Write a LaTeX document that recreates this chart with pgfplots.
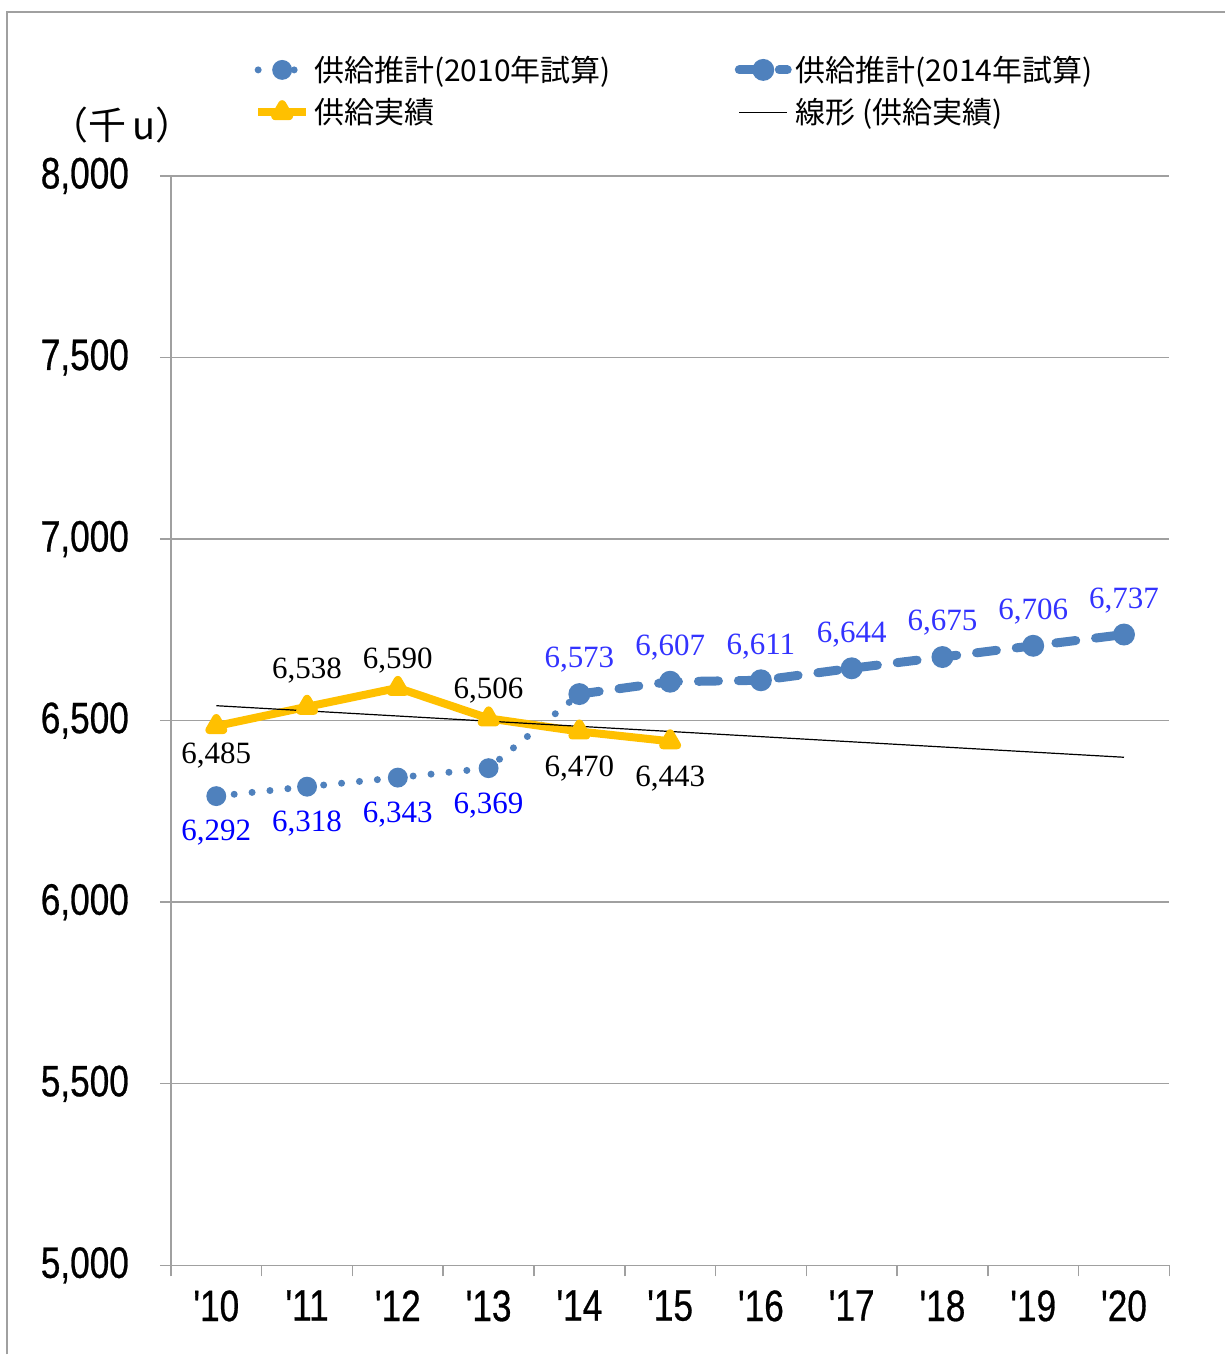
\documentclass[border=0pt]{standalone}
\usepackage{fontspec}
\setmainfont{Liberation Serif}
\newfontfamily\jp{Noto Sans CJK JP}
\newfontfamily\tickfont[FakeStretch=0.8,FakeBold=0.6]{Liberation Sans}
\usepackage{pgfplots}
\pgfplotsset{compat=1.18}
\definecolor{EstBlue}{HTML}{4F81BD}
\definecolor{ActGold}{HTML}{FFC000}
\definecolor{GridGray}{HTML}{A0A0A0}
\definecolor{LblBlue}{HTML}{0000FF}
\definecolor{LblBlueB}{HTML}{3333FF}

\begin{document}
\begin{tikzpicture}[x=0.5pt,y=0.5pt]
\path (0,0) rectangle (1226,1355);
\draw[GridGray, line width=0.75pt] (7,0) -- (7,1343) -- (1226,1343);
\node[font=\jp\fontsize{19}{22}\selectfont] at (122,1230) {（千\,u）};
\begin{axis}[
  at={(85.5pt,44.5pt)}, anchor=south west,
  scale only axis, width=499.5pt, height=545pt,
  xmin=-0.5, xmax=10.5, ymin=5000, ymax=8000,
  xtick={-0.5,0.5,...,10.5}, x tick label as interval,
  xticklabels={'10,'11,'12,'13,'14,'15,'16,'17,'18,'19,'20},
  ytick={5000,5500,...,8000},
  yticklabels={{5,000},{5,500},{6,000},{6,500},{7,000},{7,500},{8,000}},
  axis x line*=bottom, axis y line*=left,
  axis line style={GridGray, line width=0.75pt},
  ymajorgrids, grid style={GridGray, line width=0.75pt},
  tick align=outside, major tick length=5.5pt,
  tick style={GridGray, line width=0.75pt},
  tick label style={font=\tickfont\fontsize{22}{24}\selectfont, text=black},
  yticklabel style={xshift=-12pt},
  xticklabel style={yshift=-3.5pt},
  clip=false,
  legend columns=2,
  legend image code/.code={\draw[mark repeat=2,mark phase=2] plot coordinates {(0pt,0pt) (12pt,0pt) (24pt,0pt)};},
  legend style={draw=none, fill=none, at={(0.077,1.118)}, anchor=north west,
    font=\jp\fontsize{15}{18}\selectfont, row sep=3pt,
    /tikz/column 2/.style={column sep=60pt}},
  legend cell align=left,
]
% 2010 estimate
\addplot[EstBlue, line width=3.5pt, line cap=round, dash pattern=on 0pt off 9pt,
  mark=*, mark size=3.2pt, mark options={solid},
  nodes near coords, point meta=explicit symbolic,
  visualization depends on={value \thisrow{dy}\as\dy},
  every node near coord/.append style={font=\fontsize{15.5}{18}\selectfont, text=LblBlue, anchor=center, yshift=\dy pt}]
  table[meta=label] {
x y label dy
0 6292 6,292 -18.5
1 6318 6,318 -18.5
2 6343 6,343 -18.5
3 6369 6,369 -18.5
4 6573 {} 0
};
\addlegendentry{供給推計(2010年試算)}
% 2014 estimate
\addplot[EstBlue, line width=4.5pt, line cap=round, dash pattern=on 10pt off 10pt,
  mark=*, mark size=3.2pt, mark options={solid},
  nodes near coords, point meta=explicit symbolic,
  visualization depends on={value \thisrow{dy}\as\dy},
  every node near coord/.append style={font=\fontsize{15.5}{18}\selectfont, text=LblBlueB, anchor=center, yshift=\dy pt}]
  table[meta=label] {
x y label dy
4 6573 6,573 17
5 6607 6,607 17
6 6611 6,611 17
7 6644 6,644 17
8 6675 6,675 17
9 6706 6,706 17
10 6737 6,737 17
};
\addlegendentry{供給推計(2014年試算)}
% actual supply
\addplot[ActGold, line width=4pt, line join=round,
  mark=triangle*, mark size=4pt, mark options={solid},
  nodes near coords, point meta=explicit symbolic,
  visualization depends on={value \thisrow{dy}\as\dy},
  every node near coord/.append style={font=\fontsize{15.5}{18}\selectfont, text=black, anchor=center, yshift=\dy pt}]
  table[meta=label] {
x y label dy
0 6485 6,485 -15
1 6538 6,538 18
2 6590 6,590 13.5
3 6506 6,506 14
4 6470 6,470 -18.5
5 6443 6,443 -18.5
};
\addlegendentry{供給実績}
% linear trend of actual supply
\addplot[black, line width=0.6pt, no marks] coordinates {(0,6541) (10,6399)};
\addlegendentry{線形 (供給実績)}
\end{axis}
\end{tikzpicture}
\end{document}
